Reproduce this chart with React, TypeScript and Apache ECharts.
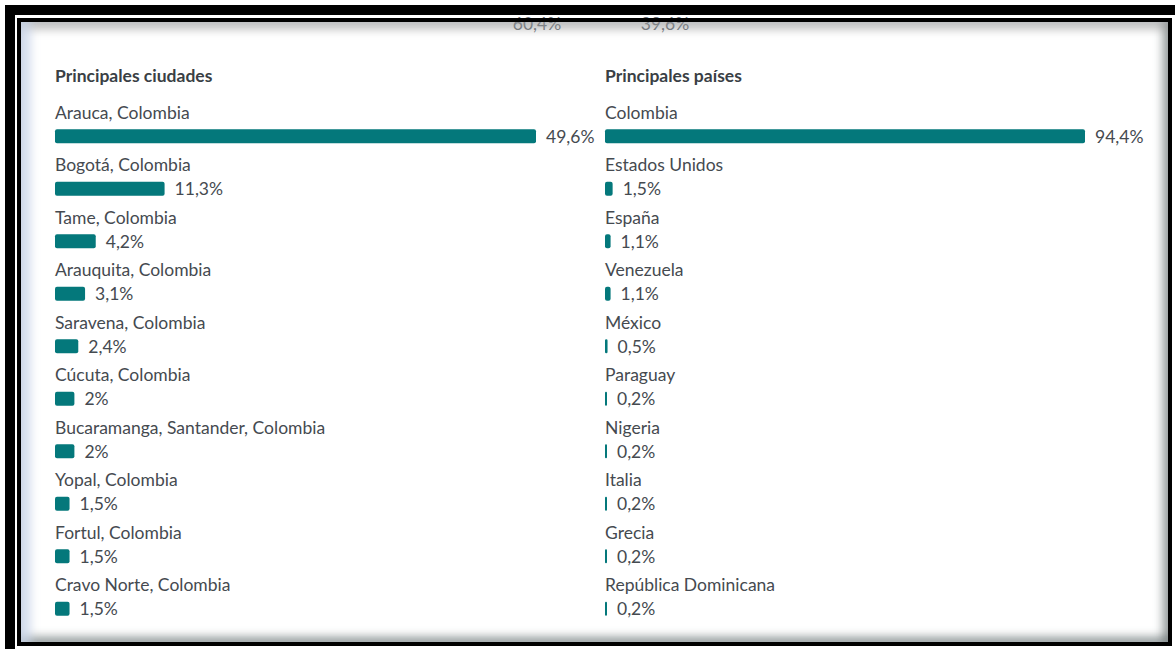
import React, { useEffect, useRef } from "react";
import * as echarts from "echarts";

const cityNames = [
  "Arauca, Colombia",
  "Bogotá, Colombia",
  "Tame, Colombia",
  "Arauquita, Colombia",
  "Saravena, Colombia",
  "Cúcuta, Colombia",
  "Bucaramanga, Santander, Colombia",
  "Yopal, Colombia",
  "Fortul, Colombia",
  "Cravo Norte, Colombia",
];
const cityValues = [49.6, 11.3, 4.2, 3.1, 2.4, 2, 2, 1.5, 1.5, 1.5];

const countryNames = [
  "Colombia",
  "Estados Unidos",
  "España",
  "Venezuela",
  "México",
  "Paraguay",
  "Nigeria",
  "Italia",
  "Grecia",
  "República Dominicana",
];
const countryValues = [94.4, 1.5, 1.1, 1.1, 0.5, 0.2, 0.2, 0.2, 0.2, 0.2];

const titles = ["Principales ciudades", "Principales países"];
const topValues = ["60,4%", "39,6%"];

const BAR_COLOR = "#04787b";
const TEXT_COLOR = "#454a50";
const FONT = "Lato, 'Noto Sans', sans-serif";
const FS = 17.5;

const fmt = (v: number) => String(v).replace(".", ",") + "%";

export default function App() {
  const ref = useRef<HTMLDivElement>(null);
  useEffect(() => {
    if (!ref.current) return;
    const chart = echarts.init(ref.current, undefined, { renderer: "svg" });
    const bandTop = 110;
    const bandH = 525;
    const grids = [
      { left: 55, top: bandTop, width: 481, height: bandH },
      { left: 605, top: bandTop, width: 480, height: bandH },
    ];
    const sets = [
      { names: cityNames, values: cityValues },
      { names: countryNames, values: countryValues },
    ];
    const option: any = {
      animation: false,
      backgroundColor: "#ffffff",
      textStyle: { fontFamily: FONT },
      grid: grids,
      xAxis: sets.map((s, i) => ({
        type: "value",
        gridIndex: i,
        min: 0,
        max: Math.max(...s.values),
        show: false,
      })),
      yAxis: sets.map((s, i) => ({
        type: "category",
        gridIndex: i,
        inverse: true,
        data: s.names,
        axisLine: { show: false },
        axisTick: { show: false },
        splitLine: { show: false },
        axisLabel: {
          inside: true,
          margin: 0,
          verticalAlign: "bottom",
          padding: [0, 0, 15, 0],
          color: TEXT_COLOR,
          fontFamily: FONT,
          fontSize: FS,
        },
      })),
      series: sets.map((s, i) => ({
        type: "bar",
        xAxisIndex: i,
        yAxisIndex: i,
        data: s.values,
        barWidth: 14,
        barMinHeight: 2,
        itemStyle: { color: BAR_COLOR, borderRadius: 2 },
        label: {
          show: true,
          position: "right",
          distance: 10,
          formatter: (p: any) => fmt(p.value),
          color: TEXT_COLOR,
          fontFamily: FONT,
          fontSize: FS,
        },
      })),
      graphic: [
        ...titles.map((t, i) => ({
          type: "text",
          left: grids[i].left,
          top: 66,
          style: {
            text: t,
            fill: "#3a3f45",
            font: `bold ${FS}px ${FONT}`,
          },
        })),
        ...topValues.map((t, i) => ({
          type: "text",
          x: [537, 665][i],
          y: 23,
          style: {
            text: t,
            fill: "#6a7078",
            font: `${FS}px ${FONT}`,
            align: "center",
            verticalAlign: "middle",
          },
        })),
      ],
    };
    chart.setOption(option);
    return () => chart.dispose();
  }, []);

  return (
    <div style={{ position: "fixed", left: 0, top: 0, width: 1175, height: 649, background: "#fff", overflow: "hidden" }}>
      <div ref={ref} style={{ position: "absolute", left: 0, top: 0, width: 1175, height: 649 }} />
      <div style={{ position: "absolute", left: 5, top: 5, width: 1170, height: 10, background: "#000", pointerEvents: "none" }} />
      <div style={{ position: "absolute", left: 5, top: 5, width: 10, height: 644, background: "#000", pointerEvents: "none" }} />
      <div
        style={{
          position: "absolute",
          left: 17,
          top: 18,
          width: 1155,
          height: 628,
          boxSizing: "border-box",
          border: "4px solid #000",
          boxShadow:
            "inset 14px 0 8px -4px rgba(200,212,232,0.75), inset 0 12px 8px -4px rgba(150,150,150,0.55), inset -10px 0 8px -4px rgba(90,100,100,0.55), inset 0 -10px 8px -4px rgba(90,100,100,0.55)",
          pointerEvents: "none",
        }}
      />
    </div>
  );
}
